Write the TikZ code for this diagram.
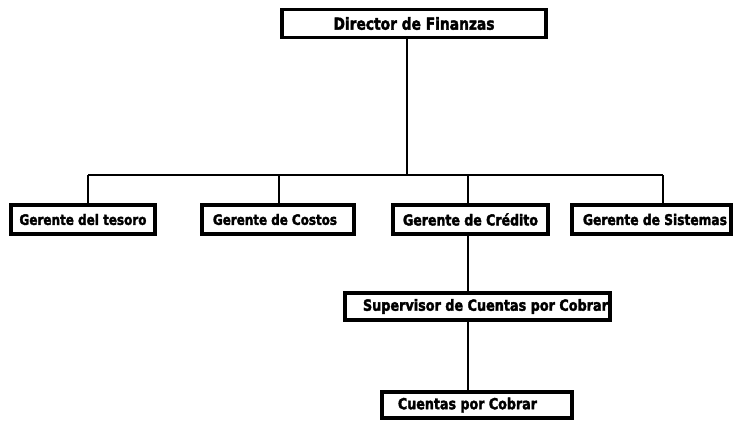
\documentclass[tikz,border=0pt]{standalone}
\usepackage{fontspec}
\usepackage{graphicx}
\setmainfont{DejaVu Sans}[BoldFeatures={FakeBold=2.5}]
% org chart of the finance department
\newcommand{\lbl}[2]{\scalebox{1}[1.2]{\resizebox{#1pt}{!}{\bfseries #2}}}
\tikzset{
  orgbox/.style={draw=black, line width=3.6pt, fill=white, inner sep=0pt,
                 minimum height=28pt, anchor=center},
  link/.style={draw=black, line width=2.4pt}
}
\begin{document}
\begin{tikzpicture}[x=1pt, y=-1pt]
  \useasboundingbox[fill=white] (0,0) rectangle (736,421);

  % boxes
  \node[orgbox, minimum width=264.5pt] (dir) at (414,23.5)
       {\lbl{161}{Director de Finanzas}};
  \node[orgbox, minimum width=144.5pt, minimum height=29.5pt] (g1) at (83,219.5)
       {\lbl{127}{Gerente del tesoro}};
  \node[orgbox, minimum width=152.5pt, minimum height=29.5pt] (g2) at (278,219.5)
       {\lbl{124}{Gerente de Costos}\hspace*{6pt}};
  \node[orgbox, minimum width=155.5pt, minimum height=29.5pt] (g3) at (470.5,219.5)
       {\lbl{135}{Gerente de Crédito}};
  \node[orgbox, minimum width=159.5pt, minimum height=29.5pt] (g4) at (651.5,219.5)
       {\hspace*{7pt}\lbl{144}{Gerente de Sistemas}};
  \node[orgbox, minimum width=265.5pt, minimum height=27.5pt] (sup) at (477.5,306.5)
       {\hspace*{16pt}\lbl{245}{Supervisor de Cuentas por Cobrar}};
  \node[orgbox, minimum width=190.5pt, minimum height=26.5pt] (cue) at (477,405)
       {\lbl{139}{Cuentas por Cobrar}\hspace*{19pt}};

  % branch points on the horizontal bar
  \coordinate (hub) at (407,175);
  \coordinate (c1) at (88,175);
  \coordinate (c2) at (279,175);
  \coordinate (c3) at (468,175);
  \coordinate (c4) at (663,175);

  % connectors
  \draw[link] (dir.south -| hub) -- (hub);
  \draw[link] (c1) -- (c4);
  \draw[link] (c1) -- (c1 |- g1.north);
  \draw[link] (c2) -- (c2 |- g2.north);
  \draw[link] (c3) -- (c3 |- g3.north);
  \draw[link] (c4) -- (c4 |- g4.north);
  \draw[link] (g3.south -| c3) -- (sup.north -| c3);
  \draw[link] (sup.south -| c3) -- (cue.north -| c3);
\end{tikzpicture}
\end{document}
